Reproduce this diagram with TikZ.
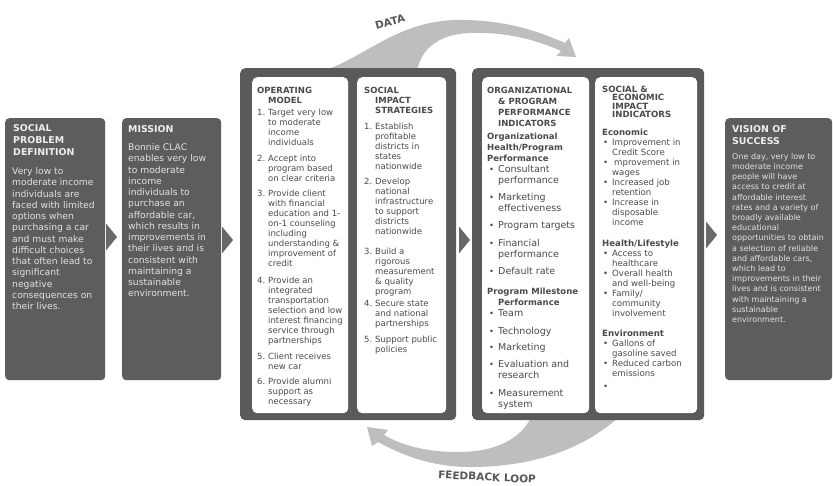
\documentclass[tikz,border=0pt]{standalone}
\usepackage{fontspec}
\setmainfont{DejaVu Sans}
\usetikzlibrary{calc}

\definecolor{boxgrey}{HTML}{5D5D5D}
\definecolor{framegrey}{HTML}{5A5A5A}
\definecolor{chevgrey}{HTML}{696969}
\definecolor{arrowgrey}{HTML}{BEBEBE}
\definecolor{inkgrey}{HTML}{4A4A4A}
\definecolor{headpale}{HTML}{EEEEEE}
\definecolor{textpale}{HTML}{E2E2E2}
\definecolor{labelgrey}{HTML}{595959}

\newcommand{\bigtxt}{\fontsize{9.5}{11}\selectfont}

\begin{document}
\begin{tikzpicture}[x=1pt, y=-1pt,
    darkbox/.style={fill=boxgrey, rounded corners=4pt, inner sep=0pt, anchor=north west},
    framebox/.style={fill=framegrey, rounded corners=5pt, inner sep=0pt, anchor=north west},
    panel/.style={fill=white, rounded corners=5pt, inner sep=0pt, anchor=north west},
    boxhead/.style={anchor=north west, inner sep=0pt, align=left, text=headpale,
      font=\fontsize{9.4}{12.3}\selectfont\bfseries},
    boxtext/.style={anchor=north west, inner sep=0pt, align=left, text=textpale,
      font=\fontsize{9.2}{11.25}\selectfont},
    paneltext/.style={anchor=north west, inner sep=0pt, text=inkgrey},
    flowarrow/.style={fill=arrowgrey},
    flowlabel/.style={text=labelgrey, inner sep=0pt, font=\fontsize{10.5}{12}\selectfont\bfseries},
    chev/.style={fill=chevgrey}
  ]
  \useasboundingbox[fill=white] (0,0) rectangle (833,485);

  % data and feedback arrows
  \fill[flowarrow] (320,72) .. controls (365,58) and (395,22) .. (455,20)
    .. controls (505,19) and (540,32) .. (565,43)
    -- (569,38) -- (576,57) -- (556,56) -- (561,51)
    .. controls (530,37) and (500,32) .. (470,33)
    .. controls (438,34) and (420,50) .. (417,72) -- cycle;
  \fill[flowarrow] (620,416) .. controls (585,448) and (535,467) .. (470,467)
    .. controls (430,467) and (400,454) .. (378,442)
    -- (372,446) -- (367,427) -- (388,430) -- (384,435)
    .. controls (405,447) and (430,452) .. (458,452)
    .. controls (495,452) and (520,440) .. (532,416) -- cycle;

  % boxes
  \node[darkbox, minimum width=100pt, minimum height=262pt] (social) at (5,118) {};
  \node[darkbox, minimum width=99pt, minimum height=262pt] (mission) at (122,118) {};
  \node[darkbox, minimum width=107pt, minimum height=262pt] (vision) at (725,118) {};
  \node[framebox, minimum width=216pt, minimum height=352pt] (frameA) at (240,68) {};
  \node[framebox, minimum width=232pt, minimum height=352pt] (frameB) at (472,68) {};
  \node[panel, minimum width=96pt, minimum height=336pt] (operating) at (252,77) {};
  \node[panel, minimum width=89pt, minimum height=336pt] (strategies) at (357,77) {};
  \node[panel, minimum width=107pt, minimum height=336pt] (orgperf) at (482,77) {};
  \node[panel, minimum width=102pt, minimum height=336pt] (impact) at (595,77) {};

  % chevrons
  \foreach \cx/\cy in {106/237, 222/240, 459/240, 706/235}
    \fill[chev] (\cx,\cy-13.5) -- (\cx+11,\cy) -- (\cx,\cy+13.5) -- cycle;

  % dark box texts
  \node[boxhead] (socialhead) at (13,124) {SOCIAL\\PROBLEM\\DEFINITION};
  \node[boxtext] (socialtext) at (12,167.5) {Very low to\\moderate income\\individuals are\\faced with limited\\options when\\purchasing a car\\and must make\\difficult choices\\that often lead to\\significant\\negative\\consequences on\\their lives.};
  \node[boxhead] (missionhead) at (128,125) {MISSION};
  \node[boxtext] (missiontext) at (128,143.5) {Bonnie CLAC\\enables very low\\to moderate\\income\\individuals to\\purchase an\\affordable car,\\which results in\\improvements in\\their lives and is\\consistent with\\maintaining a\\sustainable\\environment.};
  \node[boxhead] (visionhead) at (732,125) {VISION OF\\SUCCESS};
  \node[boxtext, font=\fontsize{8}{10.2}\selectfont] (visiontext) at (732,153) {One day, very low to\\moderate income\\people will have\\access to credit at\\affordable interest\\rates and a variety of\\broadly available\\educational\\opportunities to obtain\\a selection of reliable\\and affordable cars,\\which lead to\\improvements in their\\lives and is consistent\\with maintaining a\\sustainable\\environment.};

  % operating model
  \node[paneltext, font=\fontsize{8.5}{10}\selectfont] (operatingtext) at (257,86) {%
    \begin{tabular}{@{}p{11pt}@{}l@{}}
      \multicolumn{2}{@{}l@{}}{\textbf{OPERATING}}\\
      & \textbf{MODEL}\\[2pt]
      1. & Target very low\\ & to moderate\\ & income\\ & individuals\\[6pt]
      2. & Accept into\\ & program based\\ & on clear criteria\\[5pt]
      3. & Provide client\\ & with financial\\ & education and 1-\\ & on-1 counseling\\
         & including\\ & understanding \&\\ & improvement of\\ & credit\\[7pt]
      4. & Provide an\\ & integrated\\ & transportation\\ & selection and low\\
         & interest financing\\ & service through\\ & partnerships\\[6pt]
      5. & Client receives\\ & new car\\[5pt]
      6. & Provide alumni\\ & support as\\ & necessary
    \end{tabular}};

  % social impact strategies
  \node[paneltext, font=\fontsize{8.5}{10}\selectfont] (strategiestext) at (364,86) {%
    \begin{tabular}{@{}p{11pt}@{}l@{}}
      \multicolumn{2}{@{}l@{}}{\textbf{SOCIAL}}\\
      & \textbf{IMPACT}\\
      & \textbf{STRATEGIES}\\[6pt]
      1. & Establish\\ & profitable\\ & districts in\\ & states\\ & nationwide\\[5pt]
      2. & Develop\\ & national\\ & infrastructure\\ & to support\\ & districts\\ & nationwide\\[10pt]
      3. & Build a\\ & rigorous\\ & measurement\\ & \& quality\\ & program\\[2pt]
      4. & Secure state\\ & and national\\ & partnerships\\[6pt]
      5. & Support public\\ & policies
    \end{tabular}};

  % organizational and program performance
  \node[paneltext, font=\fontsize{8.5}{11}\selectfont] (orgperftext) at (487,85.3) {%
    \begin{tabular}{@{}p{11pt}@{}l@{}}
      \multicolumn{2}{@{}l@{}}{\textbf{ORGANIZATIONAL}}\\
      & \textbf{\& PROGRAM}\\
      & \textbf{PERFORMANCE}\\
      & \textbf{INDICATORS}\\[2pt]
      \multicolumn{2}{@{}l@{}}{\textbf{Organizational}}\\
      \multicolumn{2}{@{}l@{}}{\textbf{Health/Program}}\\
      \multicolumn{2}{@{}l@{}}{\textbf{Performance}}\\
      \hspace*{2pt}\textbullet & \bigtxt Consultant\\ & \bigtxt performance\\[6pt]
      \hspace*{2pt}\textbullet & \bigtxt Marketing\\ & \bigtxt effectiveness\\[6pt]
      \hspace*{2pt}\textbullet & \bigtxt Program targets\\[7pt]
      \hspace*{2pt}\textbullet & \bigtxt Financial\\ & \bigtxt performance\\[6pt]
      \hspace*{2pt}\textbullet & \bigtxt Default rate\\[9pt]
      \multicolumn{2}{@{}l@{}}{\textbf{Program Milestone}}\\
      & \textbf{Performance}\\
      \hspace*{2pt}\textbullet & \bigtxt Team\\[7pt]
      \hspace*{2pt}\textbullet & \bigtxt Technology\\[5pt]
      \hspace*{2pt}\textbullet & \bigtxt Marketing\\[6pt]
      \hspace*{2pt}\textbullet & \bigtxt Evaluation and\\ & \bigtxt research\\[7pt]
      \hspace*{2pt}\textbullet & \bigtxt Measurement\\ & \bigtxt system
    \end{tabular}};

  % social and economic impact
  \node[paneltext, font=\fontsize{8.6}{10}\selectfont] (impacttext) at (602,85) {%
    \begin{tabular}{@{}p{10pt}@{}l@{}}
      \multicolumn{2}{@{}l@{}}{\textbf{SOCIAL \&}}\\[-1.5pt]
      & \textbf{ECONOMIC}\\[-1.5pt]
      & \textbf{IMPACT}\\[-1.5pt]
      & \textbf{INDICATORS}\\[8pt]
      \multicolumn{2}{@{}l@{}}{\textbf{Economic}}\\
      \hspace*{1pt}\textbullet & Improvement in\\ & Credit Score\\
      \hspace*{1pt}\textbullet & \hspace*{2pt}mprovement in\\ & wages\\
      \hspace*{1pt}\textbullet & Increased job\\ & retention\\
      \hspace*{1pt}\textbullet & Increase in\\ & disposable\\ & income\\[11pt]
      \multicolumn{2}{@{}l@{}}{\textbf{Health/Lifestyle}}\\
      \hspace*{1pt}\textbullet & Access to\\ & healthcare\\
      \hspace*{1pt}\textbullet & Overall health\\ & and well-being\\
      \hspace*{1pt}\textbullet & Family/\\ & community\\ & involvement\\[10pt]
      \multicolumn{2}{@{}l@{}}{\textbf{Environment}}\\
      \hspace*{1pt}\textbullet & Gallons of\\ & gasoline saved\\
      \hspace*{1pt}\textbullet & Reduced carbon\\ & emissions\\[3pt]
      \hspace*{1pt}\textbullet &
    \end{tabular}};

  % arrow labels
  \node[flowlabel, rotate=15] (datalabel) at (390,22) {DATA};
  \node[flowlabel, rotate=-3] (feedbacklabel) at (487,477) {FEEDBACK LOOP};
\end{tikzpicture}
\end{document}
